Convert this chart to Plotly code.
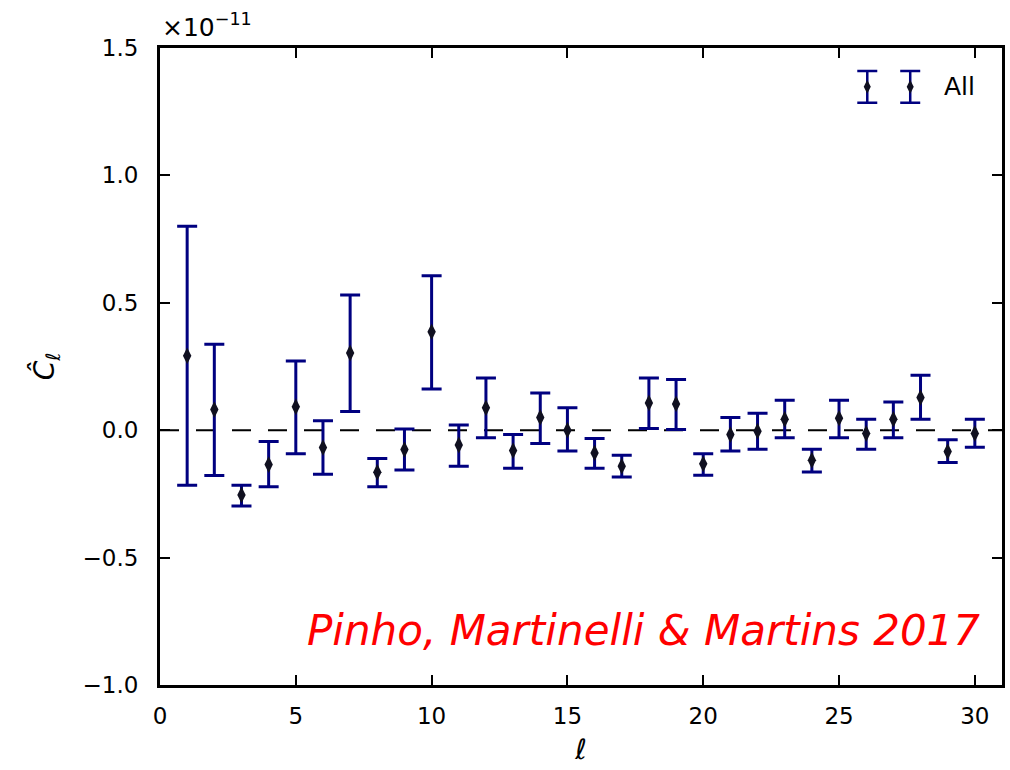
import plotly.graph_objects as go

ell = list(range(1, 31))
cl = [0.292, 0.081, -0.254, -0.135, 0.092, -0.068, 0.303, -0.165, -0.076, 0.386,
      -0.058, 0.088, -0.080, 0.050, 0.000, -0.089, -0.141, 0.107, 0.103, -0.132,
      -0.017, -0.004, 0.043, -0.118, 0.047, -0.013, 0.043, 0.128, -0.084, -0.013]
upper = [0.800, 0.337, -0.216, -0.044, 0.272, 0.037, 0.531, -0.111, 0.005, 0.606,
         0.020, 0.205, -0.017, 0.146, 0.088, -0.033, -0.098, 0.205, 0.199, -0.092,
         0.050, 0.067, 0.118, -0.075, 0.118, 0.043, 0.111, 0.216, -0.037, 0.043]
lower = [-0.216, -0.178, -0.297, -0.222, -0.092, -0.173, 0.073, -0.222, -0.156, 0.162,
         -0.141, -0.030, -0.149, -0.052, -0.082, -0.149, -0.184, 0.007, 0.003, -0.177,
         -0.082, -0.075, -0.030, -0.164, -0.030, -0.075, -0.030, 0.043, -0.127, -0.067]
scale_label = "×10<sup>−11</sup>"
xticks = [0, 5, 10, 15, 20, 25, 30]
yticks = [-1.0, -0.5, 0.0, 0.5, 1.0, 1.5]
yticklabels = ["−1.0", "−0.5", "0.0", "0.5", "1.0", "1.5"]
series_name = "All"
credit = "Pinho, Martinelli & Martins 2017"

err_plus = [u - c for u, c in zip(upper, cl)]
err_minus = [c - l for c, l in zip(cl, lower)]

NAVY = "#000080"
FONT = "DejaVu Sans"

fig = go.Figure()
fig.add_hline(y=0, line=dict(color="black", width=2, dash="19px,17px"), layer="below")
fig.add_trace(go.Scatter(
    x=ell, y=cl, mode="markers", name=series_name, showlegend=False,
    marker=dict(symbol="diamond-tall", size=12, color="#101020", line=dict(width=0)),
    error_y=dict(type="data", symmetric=False, array=err_plus, arrayminus=err_minus,
                 color=NAVY, thickness=3, width=10),
))

# legend (matplotlib style, two handles)
fig.add_trace(go.Scatter(
    x=[0.840, 0.891], y=[0.939, 0.939], xaxis="x2", yaxis="y2", mode="markers",
    showlegend=False, hoverinfo="skip",
    marker=dict(symbol="diamond-tall", size=10, color="#101020"),
    error_y=dict(type="constant", value=0.025, color=NAVY, thickness=2.5, width=10),
))
fig.add_annotation(x=0.929, y=0.939, xref="x2", yref="y2", text=series_name,
                   showarrow=False, xanchor="left", yanchor="middle",
                   font=dict(family=FONT, size=25, color="black"))

fig.add_annotation(x=0, y=1, xref="paper", yref="paper", text=scale_label,
                   showarrow=False, xanchor="left", yanchor="bottom", yshift=4,
                   font=dict(family=FONT, size=25, color="black"))
fig.add_annotation(x=0.976, y=0.086, xref="paper", yref="paper", text="<i>" + credit + "</i>",
                   showarrow=False, xanchor="right", yanchor="middle",
                   font=dict(family=FONT, size=42, color="#ff0000"))

axis_common = dict(showline=True, linecolor="black", linewidth=3, mirror="ticks",
                   ticks="inside", ticklen=10, tickwidth=1.5, tickcolor="black",
                   showgrid=False, zeroline=False,
                   tickfont=dict(family=FONT, size=23, color="black"))

fig.update_layout(
    width=1010, height=770,
    margin=dict(l=160, r=5, t=48, b=85),
    paper_bgcolor="white", plot_bgcolor="white",
    xaxis=dict(range=[0, 31], tickvals=xticks, ticktext=[str(t) for t in xticks],
               ticklabelstandoff=8,
               title=dict(text="<i>ℓ</i>", font=dict(family=FONT, size=28, color="black"), standoff=12),
               **axis_common),
    yaxis=dict(range=[-1.0, 1.5], tickvals=yticks, ticktext=yticklabels,
               ticklabelstandoff=14,
               title=dict(text="<i>C\u0302</i><sub><i>ℓ</i></sub>", font=dict(family=FONT, size=28, color="black"), standoff=20),
               **axis_common),
    xaxis2=dict(overlaying="x", range=[0, 1], visible=False, fixedrange=True),
    yaxis2=dict(overlaying="y", range=[0, 1], visible=False, fixedrange=True),
    showlegend=False,
)

fig.write_html("out.html")
